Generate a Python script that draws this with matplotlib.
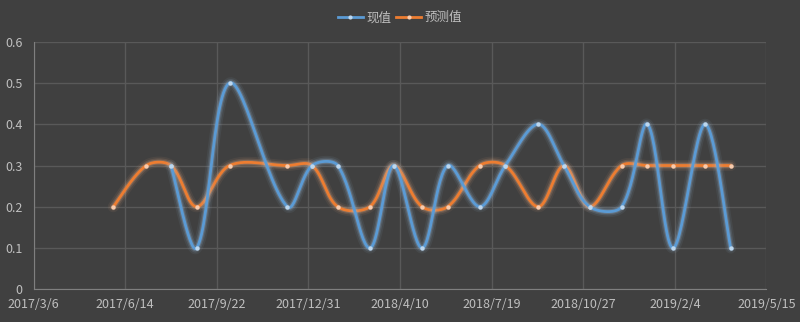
import numpy as np
import pandas as pd
import matplotlib
matplotlib.use("Agg")
import matplotlib.pyplot as plt
import matplotlib.dates as mdates
import matplotlib.patheffects as pe

plt.rcParams['font.family'] = ['Noto Sans CJK SC', 'DejaVu Sans']

# data (None = no value for that date)
dates = ["2017-06-01", "2017-07-07", "2017-08-03", "2017-08-31", "2017-10-06",
         "2017-12-08", "2018-01-04", "2018-02-01", "2018-03-08", "2018-04-03",
         "2018-05-04", "2018-06-01", "2018-07-06", "2018-08-03", "2018-09-08",
         "2018-10-06", "2018-11-03", "2018-12-08", "2019-01-05", "2019-02-02",
         "2019-03-09", "2019-04-06"]
actual = [None, None, 0.3, 0.1, 0.5, 0.2, 0.3, 0.3, 0.1, 0.3, 0.1,
          0.3, 0.2, 0.3, 0.4, 0.3, 0.2, 0.2, 0.4, 0.1, 0.4, 0.1]
predicted = [0.2, 0.3, 0.3, 0.2, 0.3, 0.3, 0.3, 0.2, 0.2, 0.3, 0.2,
             0.2, 0.3, 0.3, 0.2, 0.3, 0.2, 0.3, 0.3, 0.3, 0.3, 0.3]
labels = ["现值", "预测值"]

x_start = pd.Timestamp("2017-03-06")
x_end = pd.Timestamp("2019-05-15")

BG = "#404040"
GRID = "#595959"
TXT = "#bfbfbf"
BLUE = "#5b9bd5"
ORANGE = "#ed7d31"

# rough screen scale (px per day, px per unit) so smoothing works in pixel space
SX, SY = 0.9165, 413.0


def smooth(x, y, n=30):
    # excel-ish smoothed line: bezier segments, handles split by segment lengths
    P = np.column_stack([np.asarray(x, float) * SX, np.asarray(y, float) * SY])
    m = len(P)
    fwd = np.zeros_like(P)
    bwd = np.zeros_like(P)
    for i in range(m):
        a = P[max(i - 1, 0)]
        b = P[min(i + 1, m - 1)]
        d = b - a
        l0 = np.hypot(*(P[i] - a))
        l1 = np.hypot(*(b - P[i]))
        if i == 0 or i == m - 1:
            fwd[i] = P[i] + d / 6
            bwd[i] = P[i] - d / 6
        else:
            fwd[i] = P[i] + d * l1 / (l0 + l1) / 3
            bwd[i] = P[i] - d * l0 / (l0 + l1) / 3
    t = np.linspace(0, 1, n)[:, None]
    out = []
    for i in range(m - 1):
        p0, p1, p2, p3 = P[i], fwd[i], bwd[i + 1], P[i + 1]
        out.append((1 - t) ** 3 * p0 + 3 * (1 - t) ** 2 * t * p1
                   + 3 * (1 - t) * t ** 2 * p2 + t ** 3 * p3)
    out = np.vstack(out)
    return out[:, 0] / SX, out[:, 1] / SY


fig = plt.figure(figsize=(8, 3.22), dpi=100, facecolor=BG)
ax = fig.add_axes([0.042, 0.1016, 0.916, 0.7688], facecolor=BG)

xd = mdates.date2num(pd.to_datetime(dates))

series = [(actual, BLUE, "#9dc3e6", "#bdd7ee", labels[0], 4),
          (predicted, ORANGE, "#f4b183", "#f8cbad", labels[1], 3)]
for vals, col, glow, mface, lab, z in series:
    v = np.array([np.nan if a is None else a for a in vals], float)
    ok = ~np.isnan(v)
    sx, sy = smooth(xd[ok], v[ok])
    ax.plot(sx, sy, color=col, lw=2, solid_capstyle='round', zorder=z,
            path_effects=[pe.Stroke(linewidth=8, foreground=glow, alpha=0.07),
                          pe.Stroke(linewidth=5.5, foreground=glow, alpha=0.13),
                          pe.Stroke(linewidth=3.5, foreground=glow, alpha=0.25),
                          pe.Normal()])
    ax.plot(xd[ok], v[ok], ls='none', marker='o', ms=3.2, mfc=mface, mec='none', zorder=z)

# legend handles in series order
for vals, col, glow, mface, lab, z in series:
    ax.plot([], [], color=col, lw=2, marker='o', ms=3, mfc=mface, mec='none', label=lab)

ticks = [x_start + pd.Timedelta(days=100 * i) for i in range(9)]
ax.set_xlim(mdates.date2num(x_start), mdates.date2num(x_end))
ax.set_xticks(mdates.date2num(ticks))
ax.set_xticklabels([f"{d.year}/{d.month}/{d.day}" for d in ticks])
ax.set_ylim(0, 0.6)
ax.set_yticks(np.arange(0, 0.61, 0.1))
ax.set_yticklabels(["0"] + [f"{v:.1f}" for v in np.arange(0.1, 0.61, 0.1)])

ax.grid(True, color=GRID, lw=1)
ax.set_axisbelow(True)
for s in ["top", "right"]:
    ax.spines[s].set_visible(False)
for s in ["left", "bottom"]:
    ax.spines[s].set_color("#7f7f7f")
ax.tick_params(colors=TXT, labelsize=9, length=0, pad=6)
ax.tick_params(axis='y', pad=8)

leg = fig.legend(loc='upper center', bbox_to_anchor=(0.5, 1.0), ncol=2, frameon=False,
                 fontsize=9, handlelength=2, handletextpad=0.3, columnspacing=0.4)
for t in leg.get_texts():
    t.set_color(TXT)

fig.savefig("out.png", dpi=100, facecolor=BG)
